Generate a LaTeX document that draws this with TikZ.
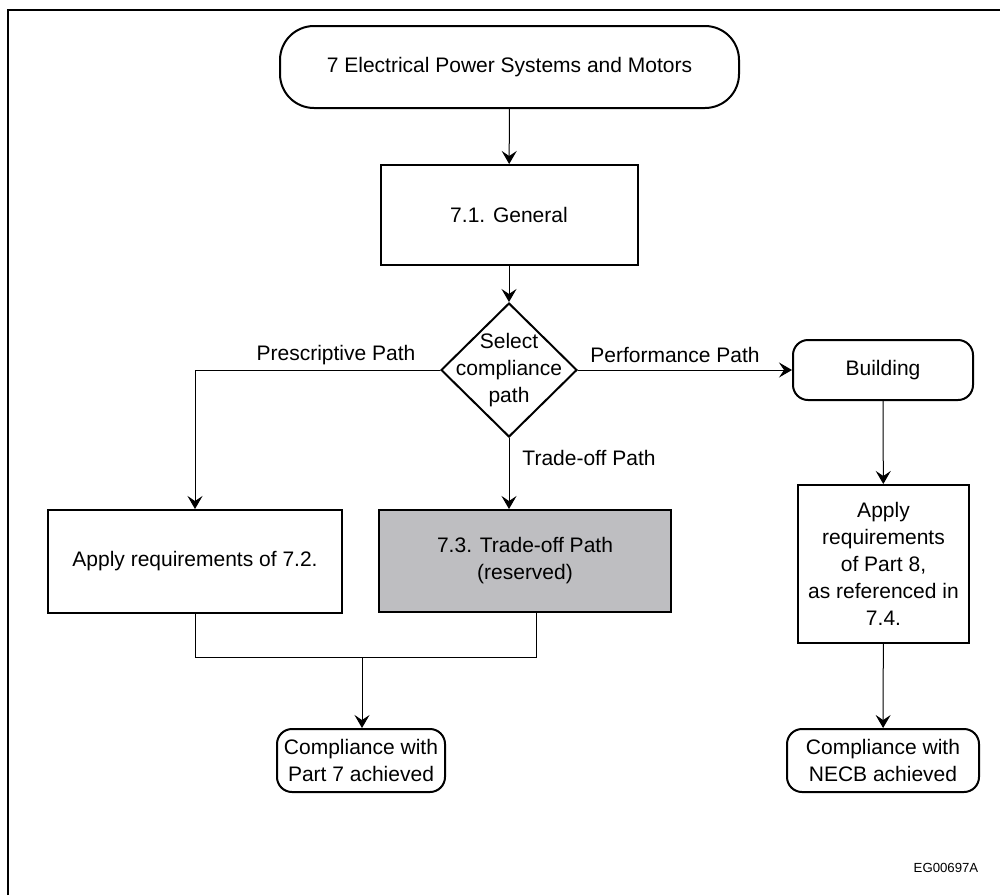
\documentclass[tikz,border=0pt]{standalone}
\usepackage{fontspec}
\setmainfont{Liberation Sans}
\usetikzlibrary{shapes.geometric,arrows.meta}

\definecolor{resgray}{RGB}{190,190,193}

\begin{document}
\begin{tikzpicture}[x=0.5pt,y=-0.5pt,
    every node/.style={font=\fontsize{10.5}{13.5}\selectfont, align=center},
    stepbox/.style={draw, line width=1pt, inner sep=2pt},
    term/.style={draw, line width=1pt, rounded corners=#1, inner sep=2pt},
    decision/.style={draw, line width=1pt, diamond, inner sep=-6pt,
      minimum width=68pt, minimum height=67pt},
    flow/.style={line width=0.5pt, -{Stealth[length=6.5pt, width=7.5pt, inset=2.5pt]}},
    link/.style={line width=0.5pt},
    pathlabel/.style={inner sep=0pt}]
  \useasboundingbox (0,0) rectangle (1000,895);
  \draw[line width=0.6pt] (8,895) -- (8,10) -- (1000,10);

  % top of the chart
  \node[term=17pt, minimum width=229.5pt, minimum height=41pt] (top) at (509.5,67)
    {7 Electrical Power Systems and Motors};
  \node[stepbox, minimum width=128.5pt, minimum height=50pt] (gen) at (509,215)
    {7.1. General};
  \node[decision] (sel) at (509,370) {Select\\compliance\\path};

  % the three paths
  \node[term=7.5pt, minimum width=90pt, minimum height=30pt] (bld) at (883,370)
    {Building};
  \node[stepbox, minimum width=147pt, minimum height=51.5pt] (app72) at (195,561.5)
    {Apply requirements of 7.2.};
  \node[stepbox, fill=resgray, minimum width=146pt, minimum height=51pt] (to73) at (525,561)
    {7.3. Trade-off Path\\(reserved)};
  \node[stepbox, minimum width=85.5pt, minimum height=79pt] (app8) at (883.5,564)
    {Apply\\requirements\\of Part 8,\\as referenced in\\7.4.};

  % results
  \node[term=7.5pt, minimum width=84pt, minimum height=31.5pt] (cmp7) at (361,760.5)
    {Compliance with\\Part 7 achieved};
  \node[term=7.5pt, minimum width=96pt, minimum height=31.5pt] (cmpN) at (883,760.5)
    {Compliance with\\NECB achieved};
  \node[font=\fontsize{6.6}{8}\selectfont, inner sep=0pt] (code) at (946,868) {EG00697A};

  \draw[flow] (top) -- (gen);
  \draw[flow] (gen) -- (sel);
  \draw[flow] (sel.west) -| (app72.north);
  \draw[flow] (sel.east) -- (bld.west);
  \draw[flow] (sel.south) -- (sel.south |- to73.north);
  \draw[flow] (bld) -- (app8);
  \draw[flow] (app8) -- (cmpN);

  \coordinate (join) at (362,657);
  \draw[link] (app72.south) |- (join) -| ([xshift=79pt]to73.south west);
  \draw[flow] (join) -- (join |- cmp7.north);

  \node[pathlabel] (lpre) at (336,355) {Prescriptive Path};
  \node[pathlabel] (lper) at (675,355) {Performance Path};
  \node[pathlabel] (ltr) at (589,458) {Trade-off Path};
\end{tikzpicture}
\end{document}
